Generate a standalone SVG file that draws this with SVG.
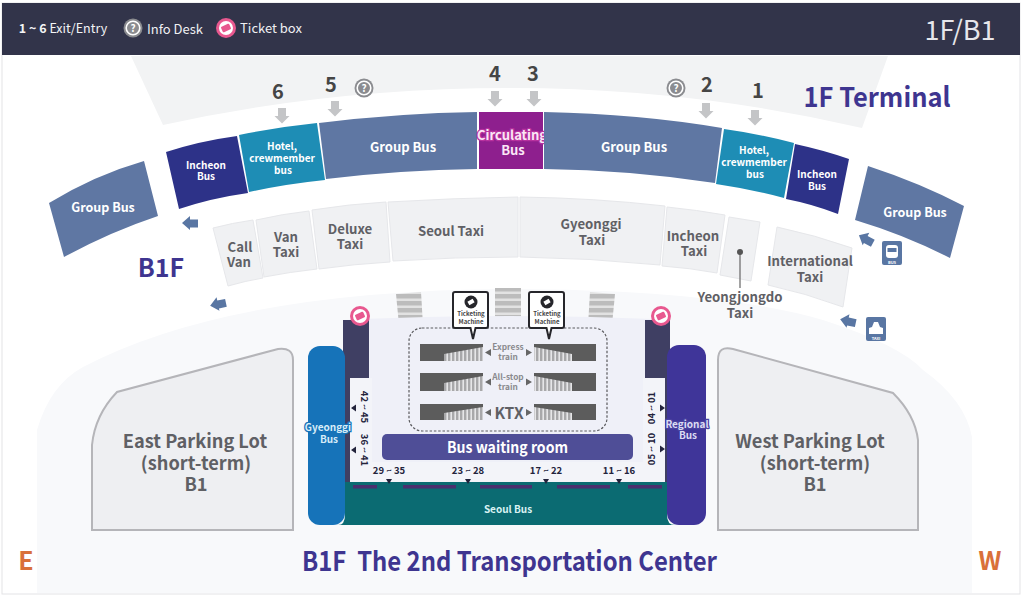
<svg xmlns="http://www.w3.org/2000/svg" width="1024" height="597" viewBox="0 0 1024 597">
<style>
text{font-family:"Noto Sans CJK KR","Noto Sans",sans-serif;text-anchor:middle}
.b{font-weight:700}
.bay{fill:#fff;font-weight:700}
.gb{fill:#5f77a3}.ht{fill:#1e8db5}.ic{fill:#2d3288}
.tx{fill:#f0f1f3;stroke:#e6e7ea;stroke-width:1}
.tl{fill:#5f6065;font-weight:700;font-size:13.2px}
.num{fill:#454545;font-weight:700;font-size:20px}
.ttl{fill:#3e3590;font-weight:700}
.pk{fill:#eeeff2;stroke:#b5b5b9;stroke-width:2}
.pt{fill:#5f6065;font-weight:700;font-size:18.200px}
.tr{fill:#5c5c5c}
.gate{fill:#23233c;font-weight:700;font-size:9.5px}
.tri{fill:#23233c}
.tm{fill:#444;font-weight:700;font-size:6px}
.tg{fill:#8a8a8e;font-weight:700;font-size:8.300px}
.dash{fill:#4a2f6e}
.halo{paint-order:stroke;stroke-width:2.5px}
</style>
<defs>
<pattern id="st" width="4" height="4" patternUnits="userSpaceOnUse"><rect width="4" height="4" fill="#e6e6e8"/><rect width="2.4" height="4" fill="#a8a8aa"/></pattern>
<pattern id="hs" width="4" height="7" patternUnits="userSpaceOnUse"><rect width="4" height="7" fill="#e2e2e2"/><rect width="4" height="4.5" fill="#bcbcbc"/></pattern>
<path id="da" d="M-4,-8H4V0H7.5L0,7.5L-7.5,0H-4Z" fill="#c4c5c7"/>
<path id="la" d="M-8,0L0,-7V-3.5H8V4.5H0V7Z" fill="#5976a3"/>
<g id="info"><circle r="9.5" fill="#8b8c90"/><circle r="6.8" fill="none" stroke="#fff" stroke-width="1.6"/><text y="3.8" font-size="10" fill="#fff" class="b">?</text></g>
<g id="pink"><circle r="10" fill="#e8588f"/><circle r="7" fill="#fff"/><rect x="-4.5" y="-3" width="9" height="6" rx="1" fill="#e8588f" transform="rotate(-25)"/></g>
</defs>
<rect x="2" y="3" width="1018" height="591" fill="#fff" stroke="#e3e3e6" stroke-width="1"/>
<path id="terminal-bg" d="M131,56H888L862,128Q690,88 512,88Q330,88 163,125Z" fill="#f2f3f4"/>
<path id="lower-bg" d="M37,593V430Q50,385 83,367Q230,290 512,289Q720,290 823,320Q900,345 923,370Q965,400 972,437V593Z" fill="#f8f9fb"/>
<rect id="header" x="2" y="3" width="1018" height="52" fill="#32344a"/>
<g id="legend">
<text x="63" y="33" font-size="12.5" fill="#f4f4f6" style="text-anchor:middle"><tspan font-weight="700">1 ~ 6</tspan> Exit/Entry</text>
<use href="#info" x="133" y="28"/>
<text x="175" y="34" font-size="13" fill="#f0f0f3">Info Desk</text>
<use href="#pink" x="226" y="28"/>
<text x="271" y="33" font-size="13" fill="#f0f0f3">Ticket box</text>
<text x="960" y="40" font-size="27" fill="#e6e6ea">1F/B1</text>
</g>

<g id="floor-titles">
<text class="ttl" x="877" y="107" font-size="27" textLength="147" lengthAdjust="spacingAndGlyphs">1F Terminal</text>
<text class="ttl" x="161" y="277" font-size="25">B1F</text>
<text class="ttl" x="509.500" y="571" font-size="27" textLength="415" lengthAdjust="spacingAndGlyphs" xml:space="preserve">B1F  The 2nd Transportation Center</text>
<text x="26" y="570" font-size="25" font-weight="700" fill="#d9703a">E</text>
<text x="990" y="570" font-size="25" font-weight="700" fill="#d9703a">W</text>
</g>

<g id="exits">
<text class="num" x="278" y="99">6</text><use href="#da" x="282" y="116"/>
<text class="num" x="331" y="92">5</text><use href="#da" x="335" y="109"/>
<text class="num" x="495" y="81">4</text><use href="#da" x="495" y="99"/>
<text class="num" x="533" y="81">3</text><use href="#da" x="534" y="99"/>
<text class="num" x="707" y="92">2</text><use href="#da" x="706" y="111"/>
<text class="num" x="758" y="98">1</text><use href="#da" x="755" y="118"/>
<use href="#info" x="364" y="88"/>
<use href="#info" x="676" y="88"/>
</g>

<g id="bay-group-far-left"><path class="gb" d="M49,203Q95,175 144,161L158,216Q110,232 64,257Z"/><text class="bay" x="103" y="212" font-size="12.5">Group Bus</text></g>
<g id="bay-incheon-left"><path class="ic" d="M166,152Q200,141 237,136L248,193Q212,198 179,209Z"/><text class="bay" x="206" y="169" font-size="10">Incheon</text><text class="bay" x="206" y="180" font-size="10">Bus</text></g>
<g id="bay-hotel-left"><path class="ht" d="M239,135Q278,127 317,123L325,180Q286,184 249,192Z"/><text class="bay" x="282" y="150" font-size="10">Hotel,</text><text class="bay" x="282" y="162" font-size="10">crewmember</text><text class="bay" x="283" y="174" font-size="10">bus</text></g>
<g id="bay-group-left"><path class="gb" d="M319,123Q400,113 477,112V169Q400,170 326,179Z"/><text class="bay" x="403" y="152" font-size="13">Group Bus</text></g>
<g id="bay-circulating"><rect x="479" y="112" width="64" height="57" fill="#8e1f8e"/><text x="512" y="140" font-size="13" class="bay halo" stroke="#b8329f" style="fill:#fbe6f6">Circulating</text><text x="513" y="155" font-size="13" class="bay" style="fill:#fbe6f6">Bus</text></g>
<g id="bay-group-right"><path class="gb" d="M544,112Q640,114 722,128L715,183Q630,170 544,169Z"/><text class="bay" x="634" y="152" font-size="13">Group Bus</text></g>
<g id="bay-hotel-right"><path class="ht" d="M724,129Q760,134 794,143L784,198Q750,189 716,184Z"/><text class="bay" x="754" y="154" font-size="10">Hotel,</text><text class="bay" x="754" y="166" font-size="10">crewmember</text><text class="bay" x="755" y="178" font-size="10">bus</text></g>
<g id="bay-incheon-right"><path class="ic" d="M795,144Q823,150 849,159L838,214Q812,204 786,199Z"/><text class="bay" x="817" y="178" font-size="10">Incheon</text><text class="bay" x="817" y="190" font-size="10">Bus</text></g>
<g id="bay-group-far-right"><path class="gb" d="M868,166Q920,183 964,206L950,258Q905,235 855,220Z"/><text class="bay" x="915" y="217" font-size="12.5">Group Bus</text></g>

<g id="direction-arrows">
<use href="#la" x="190" y="223"/>
<use href="#la" transform="translate(218,304) rotate(-12)"/>
<use href="#la" transform="translate(866,239) rotate(28)"/>
<use href="#la" transform="translate(848,321) rotate(12)"/>
</g>
<g id="icon-bus"><rect x="882" y="241" width="20" height="24" rx="2" fill="#5976a3"/><rect x="886" y="245" width="12" height="13" rx="3" fill="#fff"/><rect x="887.500" y="248" width="9" height="4" fill="#5976a3"/><text x="892" y="264" font-size="4" fill="#fff" class="b">BUS</text></g>
<g id="icon-taxi"><rect x="866" y="317" width="20" height="24" rx="2" fill="#5976a3"/><path d="M869,334V328L872,327L874,322H878L880,327L883,328V334Z" fill="#fff"/><text x="876" y="339.500" font-size="4" fill="#fff" class="b">TAXI</text></g>

<g id="taxi-call-van"><path class="tx" d="M213,228Q232,223 253,220L263,278Q245,281 228,286Z"/><text class="tl" x="240" y="252">Call</text><text class="tl" x="239" y="267">Van</text></g>
<g id="taxi-van"><path class="tx" d="M256,220Q282,214 309,211L317,269Q290,272 264,277Z"/><text class="tl" x="286" y="242">Van</text><text class="tl" x="286" y="257">Taxi</text></g>
<g id="taxi-deluxe"><path class="tx" d="M312,210Q350,204 386,202L390,262Q355,264 319,269Z"/><text class="tl" x="350" y="234">Deluxe</text><text class="tl" x="350" y="249">Taxi</text></g>
<g id="taxi-seoul"><path class="tx" d="M388,202Q455,198 518,197V257Q455,257 393,261Z"/><text class="tl" x="451" y="236">Seoul Taxi</text></g>
<g id="taxi-gyeonggi"><path class="tx" d="M520,197Q595,198 665,206L660,265Q590,258 520,257Z"/><text class="tl" x="591" y="229">Gyeonggi</text><text class="tl" x="592" y="245">Taxi</text></g>
<g id="taxi-incheon"><path class="tx" d="M667,207Q697,210 725,215L717,273Q690,268 662,266Z"/><text class="tl" x="693" y="241">Incheon</text><text class="tl" x="694" y="256">Taxi</text></g>
<g id="taxi-yeongjongdo"><path class="tx" d="M729,217L760,222L751,281L720,275Z"/><line x1="740" y1="252" x2="740" y2="288" stroke="#666" stroke-width="1.2"/><circle cx="740" cy="252" r="3" fill="#555"/><text class="tl" x="740" y="302">Yeongjongdo</text><text class="tl" x="740" y="318">Taxi</text></g>
<g id="taxi-international"><path class="tx" d="M777,227Q815,235 852,248L843,307Q805,293 768,285Z"/><text class="tl" x="810" y="266">International</text><text class="tl" x="810" y="282">Taxi</text></g>

<g id="parking-east"><path class="pk" d="M92,530V445Q95,415 117,392L278,349Q293,347 293,360V530Z"/><text class="pt" x="195" y="448">East Parking Lot</text><text class="pt" x="196" y="470">(short-term)</text><text class="pt" x="196" y="491">B1</text></g>
<g id="parking-west"><path class="pk" d="M718,530V360Q718,345 733,349L893,393Q915,415 918,440V530Z"/><text class="pt" x="810" y="448">West Parking Lot</text><text class="pt" x="815" y="470">(short-term)</text><text class="pt" x="815" y="491">B1</text></g>

<g id="stairs">
<path d="M396,294L421,292L423,325L399,325Z" fill="url(#hs)"/>
<rect x="495" y="288" width="26" height="35" fill="url(#hs)"/>
<path d="M590,292L615,294L612,325L588,325Z" fill="url(#hs)"/>
</g>
<path id="concourse" d="M343,320Q512,312 670,320V482H343Z" fill="#eff0f8"/>
<g id="towers">
<path d="M343,320H369V378H350V476Q350,482 356,482H660Q665,482 665,476V378H645V320H670V480Q670,489 660,489H353Q343,489 343,480Z" fill="#3f3f63"/>
</g>
<path id="hall" d="M350,378H372V482H350Z M643,378H665V482H643Z" fill="#f3f4f9"/>
<rect x="350" y="462" width="315" height="20" fill="#f3f4f9"/>
<g id="node-seoul"><path d="M345,482H667V515Q667,525 675,525H338Q345,525 345,515Z" fill="#0b6b72"/><text x="508" y="513" font-size="10" class="bay" style="fill:#d9f2f2">Seoul Bus</text></g>
<g id="dashes"><rect class="dash" x="353" y="485" width="24" height="3.500"/><rect class="dash" x="403" y="485" width="53" height="3.500"/><rect class="dash" x="480" y="485" width="52" height="3.500"/><rect class="dash" x="557" y="485" width="53" height="3.500"/><rect class="dash" x="628" y="485" width="34" height="3.500"/></g>
<g id="node-gyeonggi"><rect x="308" y="346" width="37" height="179" rx="12" fill="#1673b9"/><text x="328" y="431" font-size="10" class="bay halo" stroke="#1673b9" style="fill:#d7ecf8">Gyeonggi</text><text x="329" y="443" font-size="10" class="bay" style="fill:#d7ecf8">Bus</text></g>
<g id="node-regional"><rect x="667" y="345" width="39" height="180" rx="12" fill="#3f3599"/><text x="687" y="428" font-size="10" class="bay halo" stroke="#4a42a0" style="fill:#dcdcf3">Regional</text><text x="688" y="439" font-size="10" class="bay" style="fill:#dcdcf3">Bus</text></g>

<g id="pink-left"><use href="#pink" x="360" y="316"/></g>
<g id="pink-right"><use href="#pink" x="661" y="316"/></g>

<rect id="platform-box" x="409" y="328" width="198" height="103" rx="13" fill="none" stroke="#5a5a5e" stroke-width="1.2" stroke-dasharray="2.500 1.800"/>
<g id="platform-express">
<rect class="tr" x="420" y="344" width="63" height="17"/><path d="M444,354L483,347V361H444Z" fill="url(#st)"/>
<rect class="tr" x="534" y="344" width="62" height="17"/><path d="M534,347L572,354V361H534Z" fill="url(#st)"/>
<path d="M485,352.500L491,349V356Z M532,352.500L526,349V356Z" fill="#666"/>
<text class="tg" x="508" y="350">Express</text><text class="tg" x="508" y="360">train</text>
</g>
<g id="platform-allstop">
<rect class="tr" x="420" y="373" width="63" height="18"/><path d="M444,383L483,376V391H444Z" fill="url(#st)"/>
<rect class="tr" x="534" y="373" width="62" height="18"/><path d="M534,376L572,383V391H534Z" fill="url(#st)"/>
<path d="M485,382L491,378.500V385.500Z M532,382L526,378.500V385.500Z" fill="#666"/>
<text class="tg" x="508" y="380">All-stop</text><text class="tg" x="508" y="390">train</text>
</g>
<g id="platform-ktx">
<rect class="tr" x="420" y="404" width="63" height="16"/><path d="M444,413L483,407V420H444Z" fill="url(#st)"/>
<rect class="tr" x="534" y="404" width="62" height="16"/><path d="M534,407L572,413V420H534Z" fill="url(#st)"/>
<path d="M485,412.500L491,409V416Z M532,412.500L526,409V416Z" fill="#666"/>
<text x="509" y="419" font-size="15.500" font-weight="700" fill="#5f6065">KTX</text>
</g>
<g id="ticketing-left"><path d="M455,292H486Q488,292 488,294V326Q488,328 486,328H475.500L473,339L470.500,328H455Q453,328 453,326V294Q453,292 455,292Z" fill="#fff" stroke="#26262b" stroke-width="2"/><circle cx="471" cy="302" r="6.500" fill="#26262b"/><rect x="468" y="300" width="6" height="4" fill="#fff" transform="rotate(-30 471 302)"/><text class="tm" x="471" y="316">Ticketing</text><text class="tm" x="471" y="324">Machine</text></g>
<g id="ticketing-right"><path d="M531,292H562Q564,292 564,294V326Q564,328 562,328H551.500L549,339L546.500,328H531Q529,328 529,326V294Q529,292 531,292Z" fill="#fff" stroke="#26262b" stroke-width="2"/><circle cx="547" cy="302" r="6.500" fill="#26262b"/><rect x="544" y="300" width="6" height="4" fill="#fff" transform="rotate(-30 547 302)"/><text class="tm" x="547" y="316">Ticketing</text><text class="tm" x="547" y="324">Machine</text></g>

<g id="waiting-room"><rect x="382" y="434" width="251" height="26" rx="5" fill="#4f4e97"/><text x="507.500" y="453" font-size="15.500" class="bay" textLength="121" lengthAdjust="spacingAndGlyphs">Bus waiting room</text></g>

<g id="gates">
<text class="gate" transform="translate(361,407) rotate(90)">42 ~ 45</text>
<text class="gate" transform="translate(361,450) rotate(90)">36 ~ 41</text>
<text class="gate" transform="translate(655,408) rotate(-90)">04 ~ 01</text>
<text class="gate" transform="translate(655,449) rotate(-90)">05 ~ 10</text>
<text class="gate" x="389" y="474">29 ~ 35</text>
<text class="gate" x="468" y="474">23 ~ 28</text>
<text class="gate" x="546" y="474">17 ~ 22</text>
<text class="gate" x="619" y="474">11 ~ 16</text>
<path class="tri" d="M351,408L356,404.500V411.500Z M351,450L356,446.500V453.500Z M665,408L660,404.500V411.500Z M665,449L660,445.500V452.500Z"/>
<path class="tri" d="M386,479H392L389,484Z M465,479H471L468,484Z M543,479H549L546,484Z M616,479H622L619,484Z"/>
</g>
</svg>
